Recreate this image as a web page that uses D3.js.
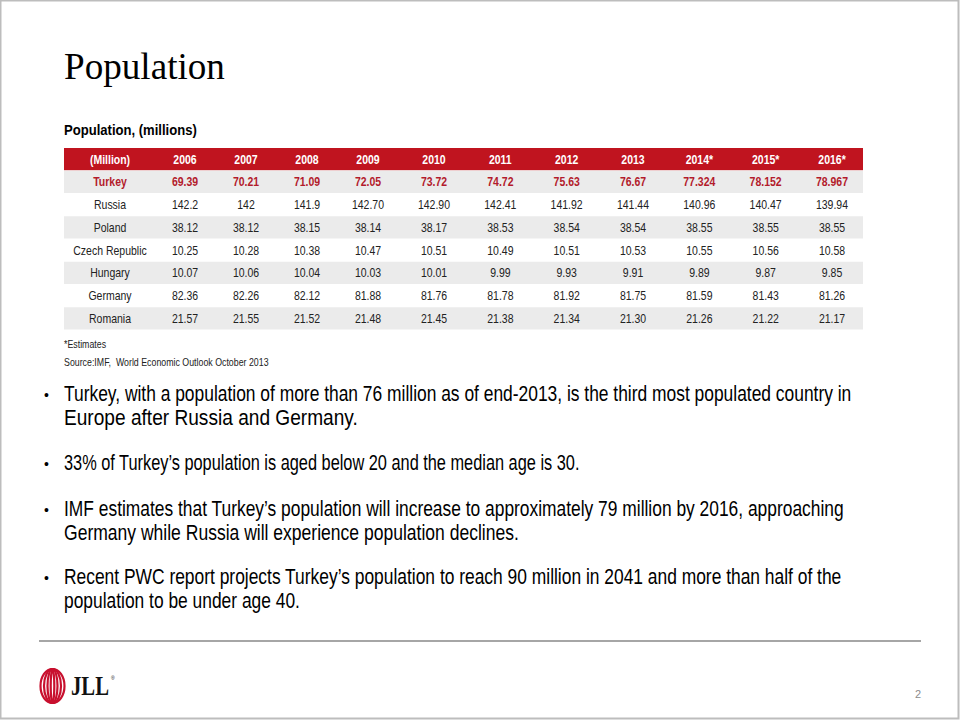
<!DOCTYPE html>
<html>
<head>
<meta charset="utf-8">
<script src="https://cdn.jsdelivr.net/npm/d3@7"></script>
<style>
  html, body { margin: 0; padding: 0; background: #fff; }
  svg { display: block; }
  text { white-space: pre; }
</style>
</head>
<body>
<svg id="chart" width="960" height="720"></svg>
<script>
// ---------- data ----------
const title = "Population";
const subtitle = "Population, (millions)";
const headerLabel = "(Million)";
const years = ["2006","2007","2008","2009","2010","2011","2012","2013","2014*","2015*","2016*"];
const countries = ["Turkey","Russia","Poland","Czech Republic","Hungary","Germany","Romania"];
const turkey  = ["69.39","70.21","71.09","72.05","73.72","74.72","75.63","76.67","77.324","78.152","78.967"];
const russia  = ["142.2","142","141.9","142.70","142.90","142.41","141.92","141.44","140.96","140.47","139.94"];
const poland  = ["38.12","38.12","38.15","38.14","38.17","38.53","38.54","38.54","38.55","38.55","38.55"];
const czech   = ["10.25","10.28","10.38","10.47","10.51","10.49","10.51","10.53","10.55","10.56","10.58"];
const hungary = ["10.07","10.06","10.04","10.03","10.01","9.99","9.93","9.91","9.89","9.87","9.85"];
const germany = ["82.36","82.26","82.12","81.88","81.76","81.78","81.92","81.75","81.59","81.43","81.26"];
const romania = ["21.57","21.55","21.52","21.48","21.45","21.38","21.34","21.30","21.26","21.22","21.17"];
const seriesValues = [turkey, russia, poland, czech, hungary, germany, romania];
const notes = ["*Estimates", "Source:IMF,  World Economic Outlook October 2013"];
const bullets = [
  ["Turkey, with a population of more than 76 million as of end-2013, is the third most populated country in",
   "Europe after Russia and Germany."],
  ["33% of Turkey\u2019s population is aged below 20 and the median age is 30."],
  ["IMF estimates that Turkey\u2019s population will increase to approximately 79 million by 2016, approaching",
   "Germany while Russia will experience population declines."],
  ["Recent PWC report projects Turkey\u2019s population to reach 90 million in 2041 and more than half of the",
   "population to be under age 40."]
];
const bulletLineWidths = [[788, 294], [516], [780, 455], [778, 236]];
const pageNumber = "2";

// ---------- drawing ----------
const svg = d3.select("#chart");
const RED = "#c0141f";
const TRED = "#b31b2c";
const SANS = "'Liberation Sans',Arial,sans-serif";
const SQUEEZE = 0.84;

// place a text at (x, y) horizontally compressed by sx, optionally fit to a width
function placeText(parent, str, x, y, opts) {
  const g = parent.append("g");
  const t = g.append("text").attr("x", 0).attr("y", 0)
    .attr("xml:space", "preserve")
    .attr("font-family", opts.family || SANS)
    .attr("font-size", opts.size)
    .attr("font-weight", opts.weight || "normal")
    .attr("fill", opts.fill || "#000")
    .attr("text-anchor", opts.anchor || "start")
    .text(str);
  let sx = opts.sx || 1;
  if (opts.width) sx = opts.width / t.node().getComputedTextLength();
  g.attr("transform", `translate(${x},${y}) scale(${sx},1)`);
  return g;
}

// slide frame
svg.append("rect").attr("x", 0.5).attr("y", 0.5).attr("width", 958).attr("height", 718)
  .attr("fill", "none").attr("stroke", "#bdbdbd").attr("stroke-width", 2);

// title
placeText(svg, title, 64, 79, {family: "'Liberation Serif','Times New Roman',serif", size: 38, width: 161});
placeText(svg, subtitle, 64, 135, {size: 14, weight: "bold", width: 133});

// table scales
const tableLeft = 64, tableRight = 863;
const rowKeys = ["header"].concat(countries);
const y = d3.scaleBand().domain(rowKeys).range([148, 330]).paddingInner(0);
const x = d3.scaleLinear().domain([-1, 0, 3, 4, 10]).range([110, 185, 368, 434, 832]);

const rows = svg.append("g");
rows.selectAll("rect.row").data(rowKeys).join("rect")
  .attr("class", "row")
  .attr("x", tableLeft).attr("width", tableRight - tableLeft)
  .attr("y", d => y(d)).attr("height", y.bandwidth() - 0.5)
  .attr("fill", (d, i) => i === 0 ? RED : (i % 2 === 1 ? "#ebebeb" : "#ffffff"));

// header texts
const headerCells = [headerLabel].concat(years);
headerCells.forEach((d, i) => {
  placeText(rows, d, x(i - 1), y("header") + y.bandwidth() / 2 + 4.3,
    {size: 12.5, weight: "bold", fill: "#fff", anchor: "middle", sx: SQUEEZE});
});

// body
countries.forEach((c, ci) => {
  const isT = ci === 0;
  const cells = [c].concat(seriesValues[ci]);
  cells.forEach((d, i) => {
    placeText(rows, d, x(i - 1), y(c) + y.bandwidth() / 2 + 4.3,
      {size: 12.5, weight: isT ? "bold" : "normal", fill: isT ? TRED : "#222", anchor: "middle", sx: SQUEEZE});
  });
});

// notes
notes.forEach((n, i) => {
  placeText(svg, n, 64, 348 + i * 18, {size: 10.5, fill: "#222", sx: SQUEEZE});
});

// bullets
const bulletBaselines = [[401, 425], [470], [516, 540], [584, 608]];
bullets.forEach((lines, bi) => {
  svg.append("text").attr("x", 44).attr("y", bulletBaselines[bi][0] - 1)
    .attr("font-family", SANS).attr("font-size", 14)
    .attr("fill", "#000").text("\u2022");
  lines.forEach((ln, li) => {
    placeText(svg, ln, 64, bulletBaselines[bi][li], {size: 21.5, fill: "#000", width: bulletLineWidths[bi][li]});
  });
});

// bottom rule
svg.append("line").attr("x1", 39).attr("x2", 921).attr("y1", 641).attr("y2", 641)
  .attr("stroke", "#a6a6a6").attr("stroke-width", 2);

// JLL logo
const logo = svg.append("g").attr("transform", "translate(52.5,686)");
[[12, 17], [8.5, 17], [5, 17], [1.8, 16.5]].forEach(([rx, ry]) => {
  logo.append("ellipse").attr("cx", 0).attr("cy", 0).attr("rx", rx).attr("ry", ry)
    .attr("fill", "none").attr("stroke", "#c8102e").attr("stroke-width", 2.2);
});
placeText(svg, "JLL", 71, 695, {family: "'Liberation Serif','Times New Roman',serif", size: 27, weight: "bold", fill: "#111", width: 38});
svg.append("text").attr("x", 111).attr("y", 680)
  .attr("font-family", SANS).attr("font-size", 5).attr("fill", "#111").text("\u00ae");

// page number
svg.append("text").attr("x", 918).attr("y", 698).attr("text-anchor", "middle")
  .attr("font-family", SANS).attr("font-size", 11)
  .attr("fill", "#8c8c8c").text(pageNumber);
</script>
</body>
</html>
